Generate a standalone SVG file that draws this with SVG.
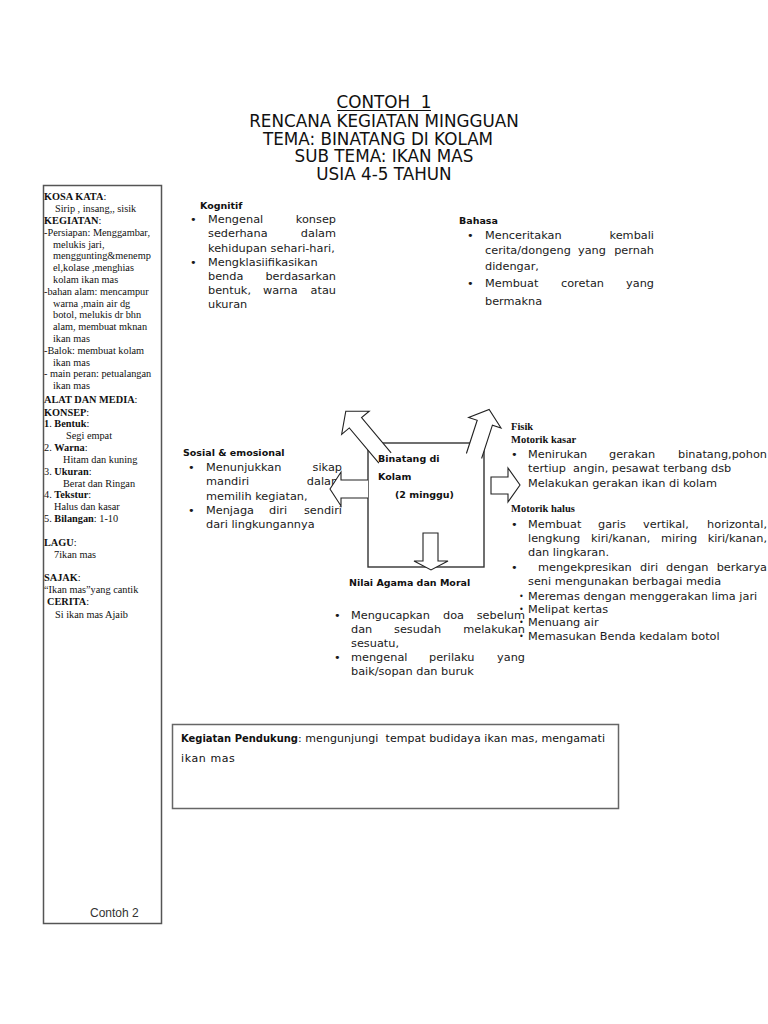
<svg xmlns="http://www.w3.org/2000/svg" width="768" height="1024" viewBox="0 0 768 1024">
<style>
.title{font-family:"DejaVu Sans",sans-serif;font-size:16.8px;fill:#111;text-anchor:middle}
.lp{font-family:"Liberation Serif",serif;font-size:10.3px;fill:#111}
.b{font-weight:bold}
.body{font-family:"DejaVu Sans",sans-serif;font-size:11.3px;fill:#1a1a1a}
.sb{font-family:"DejaVu Sans",sans-serif;font-size:8px;fill:#1a1a1a}
.end{text-anchor:end}
.hd{font-family:"DejaVu Sans",sans-serif;font-size:9.5px;font-weight:bold;fill:#111}
.sh{font-family:"Liberation Serif",serif;font-size:10.5px;font-weight:bold;fill:#111}
.cm{font-family:"DejaVu Sans",sans-serif;font-size:11px;fill:#111}
.box{fill:none;stroke:#555;stroke-width:1.5}
.arr{fill:#fff;stroke:#222;stroke-width:1.1;stroke-linejoin:miter}
</style>

<g id="title">
<text class="title" x="384" y="108">CONTOH&#160;&#160;1</text>
<line x1="337" y1="110.5" x2="431" y2="110.5" stroke="#111" stroke-width="1"/>
<text class="title" x="384" y="127">RENCANA KEGIATAN MINGGUAN</text>
<text class="title" x="378" y="145">TEMA: BINATANG DI KOLAM</text>
<text class="title" x="384" y="162">SUB TEMA: IKAN MAS</text>
<text class="title" x="384" y="180">USIA 4-5 TAHUN</text>
</g>

<g id="left-panel">
<rect class="box" x="43.5" y="185.5" width="118" height="738"/>
<text class="lp" x="44" y="200"><tspan class="b">KOSA KATA</tspan>:</text>
<text class="lp" x="55" y="212">Sirip , insang,, sisik</text>
<text class="lp" x="44" y="224"><tspan class="b">KEGIATAN</tspan>:</text>
<text class="lp" x="44" y="236">-Persiapan: Menggambar,</text>
<text class="lp" x="53" y="248">melukis jari,</text>
<text class="lp" x="53" y="259">menggunting&amp;menemp</text>
<text class="lp" x="53" y="271">el,kolase ,menghias</text>
<text class="lp" x="53" y="283">kolam ikan mas</text>
<text class="lp" x="44" y="295">-bahan alam: mencampur</text>
<text class="lp" x="53" y="307">warna ,main air dg</text>
<text class="lp" x="53" y="318">botol, melukis dr bhn</text>
<text class="lp" x="53" y="330">alam, membuat mknan</text>
<text class="lp" x="53" y="342">ikan mas</text>
<text class="lp" x="44" y="354">-Balok: membuat kolam</text>
<text class="lp" x="53" y="366">ikan mas</text>
<text class="lp" x="44" y="377">- main peran: petualangan</text>
<text class="lp" x="53" y="389">ikan mas</text>
<text class="lp" x="44" y="403"><tspan class="b">ALAT DAN MEDIA</tspan>:</text>
<text class="lp" x="44" y="416"><tspan class="b">KONSEP</tspan>:</text>
<text class="lp" x="44" y="427"><tspan class="b">1</tspan>. <tspan class="b">Bentuk</tspan>:</text>
<text class="lp" x="66" y="439">Segi empat</text>
<text class="lp" x="44" y="451">2. <tspan class="b">Warna</tspan>:</text>
<text class="lp" x="63" y="463">Hitam dan kuning</text>
<text class="lp" x="44" y="475">3. <tspan class="b">Ukuran</tspan>:</text>
<text class="lp" x="63" y="487">Berat dan Ringan</text>
<text class="lp" x="44" y="498">4. <tspan class="b">Tekstur</tspan>:</text>
<text class="lp" x="54" y="510">Halus dan kasar</text>
<text class="lp" x="44" y="522">5. <tspan class="b">Bilangan</tspan>:  1-10</text>
<text class="lp" x="44" y="546"><tspan class="b">LAGU</tspan>:</text>
<text class="lp" x="54" y="558">7ikan mas</text>
<text class="lp" x="44" y="581"><tspan class="b">SAJAK</tspan>:</text>
<text class="lp" x="44" y="593">“Ikan mas”yang cantik</text>
<text class="lp" x="47" y="605"><tspan class="b">CERITA</tspan>:</text>
<text class="lp" x="55" y="618">Si ikan mas Ajaib</text>
<text x="90" y="917" font-family="'Liberation Sans',Arial,sans-serif" font-size="12" fill="#333">Contoh 2</text>
</g>

<g id="kognitif">
<text class="hd" x="200" y="209">Kognitif</text>
<text class="body" x="190" y="223">•</text>
<text class="body" x="208" y="223">Mengenal</text><text class="body end" x="336" y="223">konsep</text>
<text class="body" x="208" y="237">sederhana</text><text class="body end" x="336" y="237">dalam</text>
<text class="body" x="208" y="252">kehidupan sehari-hari,</text>
<text class="body" x="190" y="266">•</text>
<text class="body" x="208" y="266">Mengklasiifikasikan</text>
<text class="body" x="208" y="280">benda</text><text class="body end" x="336" y="280">berdasarkan</text>
<text class="body" x="208" y="294">bentuk,</text><text class="body" x="263" y="294">warna</text><text class="body end" x="336" y="294">atau</text>
<text class="body" x="208" y="308">ukuran</text>
</g>

<g id="bahasa">
<text class="hd" x="459" y="224">Bahasa</text>
<text class="body" x="467" y="239">•</text>
<text class="body" x="485" y="239">Menceritakan</text><text class="body end" x="654" y="239">kembali</text>
<text class="body" x="485" y="254">cerita/dongeng</text><text class="body" x="578" y="254">yang</text><text class="body end" x="654" y="254">pernah</text>
<text class="body" x="485" y="270">didengar,</text>
<text class="body" x="467" y="287">•</text>
<text class="body" x="485" y="287">Membuat</text><text class="body" x="561" y="287">coretan</text><text class="body end" x="654" y="287">yang</text>
<text class="body" x="485" y="305" font-size="14">bermakna</text>
</g>

<g id="sosial">
<text class="hd" x="183" y="456">Sosial &amp; emosional</text>
<text class="body" x="188" y="471">•</text>
<text class="body" x="206" y="471">Menunjukkan</text><text class="body end" x="342" y="471">sikap</text>
<text class="body" x="206" y="485">mandiri</text><text class="body end" x="342" y="485">dalam</text>
<text class="body" x="206" y="500">memilih kegiatan,</text>
<text class="body" x="188" y="514">•</text>
<text class="body" x="206" y="514">Menjaga</text><text class="body" x="269" y="514">diri</text><text class="body end" x="342" y="514">sendiri</text>
<text class="body" x="206" y="528">dari lingkungannya</text>
</g>

<g id="pusat">
<rect x="368" y="443" width="116" height="124" fill="none" stroke="#333" stroke-width="1.4"/>
</g>

<g id="connectors">
<path class="arr" d="M368,480 L341,480 L341,472 L330,489 L341,506 L341,498 L368,498"/>
<path class="arr" d="M491,477 L508,477 L508,468 L520,485 L508,502 L508,494 L491,494 Z"/>
<path class="arr" d="M423,533 L438,533 L438,561 L448,561 L431,570 L414,561 L423,561 Z"/>
<path class="arr" transform="translate(385,458) rotate(-40)" d="M-8,0 L-8,-46 L-18,-46 L0,-61 L18,-46 L8,-46 L8,0"/>
<path class="arr" transform="translate(474,456) rotate(18)" d="M-8,0 L-8,-35 L-17,-35 L0,-49 L17,-35 L8,-35 L8,0"/>
</g>

<g id="pusat-label">
<text class="hd" x="378" y="462" font-size="12">Binatang di</text>
<text class="hd" x="378" y="480" font-size="12">Kolam</text>
<text class="hd" x="395" y="498" font-size="12">(2 minggu)</text>
</g>

<g id="nilai-agama">
<text class="hd" x="349" y="586">Nilai Agama dan Moral</text>
<text class="body" x="334" y="619">•</text>
<text class="body" x="351" y="619">Mengucapkan</text><text class="body" x="443" y="619">doa</text><text class="body end" x="525" y="619">sebelum</text>
<text class="body" x="351" y="633">dan</text><text class="body" x="394" y="633">sesudah</text><text class="body end" x="525" y="633">melakukan</text>
<text class="body" x="351" y="647">sesuatu,</text>
<text class="body" x="334" y="661">•</text>
<text class="body" x="351" y="661">mengenal</text><text class="body" x="429" y="661">perilaku</text><text class="body end" x="525" y="661">yang</text>
<text class="body" x="351" y="675">baik/sopan dan buruk</text>
</g>

<g id="fisik">
<text class="sh" x="511" y="430">Fisik</text>
<text class="sh" x="511" y="443">Motorik kasar</text>
<text class="body" x="511" y="458">•</text>
<text class="body" x="528" y="458">Menirukan</text><text class="body" x="609" y="458">gerakan</text><text class="body end" x="767" y="458">binatang,pohon</text>
<text class="body" x="528" y="472">tertiup&#160; angin, pesawat terbang dsb</text>
<text class="body" x="528" y="487">Melakukan gerakan ikan di kolam</text>
<text class="sh" x="511" y="512">Motorik halus</text>
<text class="body" x="511" y="528">•</text>
<text class="body" x="528" y="528">Membuat</text><text class="body" x="598" y="528">garis</text><text class="body" x="643" y="528">vertikal,</text><text class="body end" x="767" y="528">horizontal,</text>
<text class="body" x="528" y="542">lengkung</text><text class="body" x="591" y="542">kiri/kanan,</text><text class="body" x="661" y="542">miring</text><text class="body end" x="767" y="542">kiri/kanan,</text>
<text class="body" x="528" y="556">dan lingkaran.</text>
<text class="body" x="511" y="571">•</text>
<text class="body" x="538" y="571">mengekpresikan</text><text class="body" x="640" y="571">diri</text><text class="body" x="666" y="571">dengan</text><text class="body end" x="767" y="571">berkarya</text>
<text class="body" x="528" y="585">seni mengunakan berbagai media</text>
<text class="sb" x="519" y="599">•</text><text class="body" x="528" y="600">Meremas dengan menggerakan lima jari</text>
<text class="sb" x="519" y="612">•</text><text class="body" x="528" y="613">Melipat kertas</text>
<text class="sb" x="519" y="625">•</text><text class="body" x="528" y="626">Menuang air</text>
<text class="sb" x="519" y="639">•</text><text class="body" x="528" y="640">Memasukan Benda kedalam botol</text>
</g>

<g id="kegiatan-pendukung">
<rect x="172.5" y="724.5" width="446" height="84" fill="none" stroke="#666" stroke-width="1.5"/>
<text class="cm" x="181" y="742" font-weight="bold" textLength="117" lengthAdjust="spacingAndGlyphs">Kegiatan Pendukung</text>
<text class="cm" x="298" y="742" textLength="307" lengthAdjust="spacing">: mengunjungi&#160; tempat budidaya ikan mas, mengamati</text>
<text class="cm" x="181" y="762" letter-spacing="0.6">ikan mas</text>
</g>
</svg>
